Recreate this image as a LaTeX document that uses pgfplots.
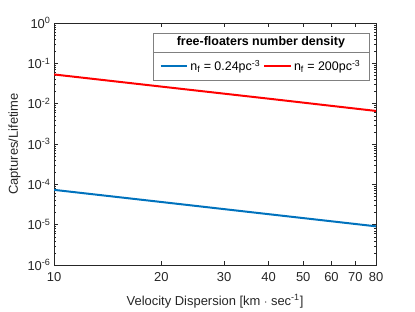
\documentclass[border=0pt]{standalone}
\usepackage{pgfplots}
\pgfplotsset{compat=1.18}
\usepackage{fontspec}
\setmainfont{Liberation Sans}
\definecolor{mblue}{rgb}{0,0.447,0.741}
\definecolor{axgray}{rgb}{0.15,0.15,0.15}
\begin{document}
\begin{tikzpicture}
\path[use as bounding box] (-54bp,-47bp) rectangle (361bp,265bp);
\begin{axis}[
  scale only axis,
  width=322bp, height=242bp,
  xmode=log, ymode=log,
  xmin=10, xmax=80, ymin=1e-6, ymax=1,
  xtick={10,20,30,40,50,60,70,80},
  xticklabels={10,20,30,40,50,60,70,80},
  minor xtick={},
  ytick={1e-6,1e-5,1e-4,1e-3,1e-2,1e-1,1},
  yticklabels={10\textsuperscript{-6},10\textsuperscript{-5},10\textsuperscript{-4},10\textsuperscript{-3},10\textsuperscript{-2},10\textsuperscript{-1},10\textsuperscript{0}},
  tick align=inside,
  major tick length=4bp, minor tick length=2bp,
  axis line style={axgray},
  every tick/.style={axgray},
  tick label style={font=\fontsize{13}{15}\selectfont, text=axgray},
  xticklabel style={yshift=-4bp},
  label style={font=\fontsize{13}{15}\selectfont, text=axgray},
  xlabel={Velocity Dispersion [km $\cdot$ sec\textsuperscript{-1}]},
  ylabel={Captures/Lifetime},
  xlabel style={yshift=-6bp},
  ylabel style={yshift=0bp},
  legend columns=2,
  legend style={at={(rel axis cs:0.6425,0.822)}, anchor=center, draw=none, fill=none, font=\fontsize{12.5}{14}\selectfont,
    /tikz/every even column/.append style={column sep=1bp}, inner sep=1bp},
  legend image code/.code={\draw[#1] (0cm,0cm) -- (0.95cm,0cm);},
  legend cell align=left,
]
\draw[gray, fill=white] (rel axis cs:0.307,0.764) rectangle (rel axis cs:0.978,0.959);
\draw[gray] (rel axis cs:0.307,0.88) -- (rel axis cs:0.978,0.88);
\node[font=\bfseries\fontsize{12.5}{14}\selectfont, text=black] at (rel axis cs:0.6425,0.9195) {free-floaters number density};
\addplot[mblue, line width=2bp] coordinates {(10,7.3e-5) (20,3.65e-5) (40,1.82e-5) (80,9.1e-6)};
\addlegendentry{n\textsubscript{f} = 0.24pc\textsuperscript{-3}}
\addplot[red, line width=2bp] coordinates {(10,0.053) (20,0.0265) (40,0.0133) (80,0.0066)};
\addlegendentry{n\textsubscript{f} = 200pc\textsuperscript{-3}}
\end{axis}
\end{tikzpicture}
\end{document}
